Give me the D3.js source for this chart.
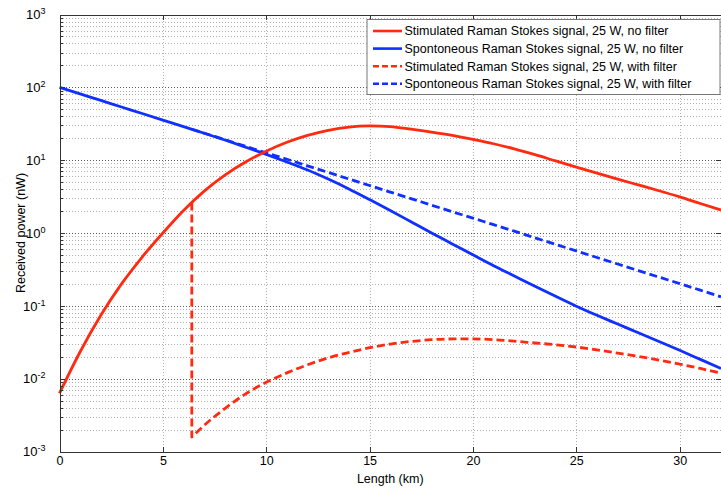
<!DOCTYPE html>
<html>
<head>
<meta charset="utf-8">
<title>Received power vs fibre length</title>
<script src="https://cdnjs.cloudflare.com/ajax/libs/d3/7.8.5/d3.min.js"></script>
<style>
  body { margin: 0; background: #fff; }
  text { font-family: Arial, "Liberation Sans", Helvetica, sans-serif; font-size: 12.5px; fill: #000; }
  .grid-minor { stroke: #b0b0b0; stroke-dasharray: 1,2; shape-rendering: crispEdges; }
  .grid-major { stroke: #5a5a5a; stroke-dasharray: 1,2; shape-rendering: crispEdges; }
  .axis path, .axis line { stroke: #333; shape-rendering: crispEdges; }
  .curve { fill: none; stroke-width: 2.8; stroke-linejoin: round; }
</style>
</head>
<body>
<svg id="main" width="721" height="491"></svg>
<script>
// fibre length (km), no filter
var km = [0, 1, 2, 3, 4, 5, 6, 7, 8, 9, 10, 11, 12, 13, 14, 15, 16,
          17, 18, 19, 20, 21, 22, 23, 24, 25, 26, 27, 28, 29, 30, 31, 32];

// received power (nW)
var stimNoFilter = [0.0063, 0.0234, 0.0741, 0.200, 0.468, 1.00, 2.04, 3.76, 6.24, 9.44, 13.3,
                    17.6, 21.9, 25.7, 28.5, 29.5, 28.8, 26.6, 24.3, 21.9, 19.3, 16.8, 14.3,
                    11.9, 9.77, 8.04, 6.64, 5.50, 4.57, 3.80, 3.13, 2.54, 2.07];
var spontNoFilter = [100, 81.3, 66.1, 53.7, 43.7, 35.5, 28.8, 23.4, 18.9, 15.1, 12.0,
                     9.44, 7.33, 5.50, 4.03, 2.88, 2.04, 1.43, 1.00, 0.708, 0.501, 0.355,
                     0.257, 0.186, 0.135, 0.0989, 0.0741, 0.0562, 0.0427, 0.0324, 0.0245,
                     0.0184, 0.0138];

// filter placed at 6.4 km
var kmFilter = [6.4, 7, 8, 9, 10, 11, 12, 13, 14, 15, 16, 17, 18, 19, 20,
                21, 22, 23, 24, 25, 26, 27, 28, 29, 30, 31, 32];
var stimBeforeFilter = 2.62;
var stimFilter = [0.00158, 0.00229, 0.00389, 0.00617, 0.00891, 0.0120, 0.0155, 0.0193,
                  0.0229, 0.0266, 0.0299, 0.0324, 0.0343, 0.0351, 0.0351, 0.0343, 0.0327,
                  0.0309, 0.0292, 0.0272, 0.0248, 0.0224, 0.0202, 0.0180, 0.0158, 0.0138,
                  0.0119];
var spontFilter = [26.6, 23.5, 19.1, 15.5, 12.6, 10.3, 8.35, 6.79, 5.52, 4.49, 3.65, 2.97,
                   2.41, 1.96, 1.60, 1.30, 1.06, 0.858, 0.698, 0.567, 0.461, 0.375, 0.305,
                   0.248, 0.202, 0.164, 0.133];

var xTicks = [0, 5, 10, 15, 20, 25, 30];
var yDecades = [-3, -2, -1, 0, 1, 2, 3];
var minorMult = [2, 3, 4, 5, 6, 7, 8, 9];

var legendLabels = [
  "Stimulated Raman Stokes signal, 25 W, no filter",
  "Spontoneous Raman Stokes signal, 25 W, no filter",
  "Stimulated Raman Stokes signal, 25 W, with filter",
  "Spontoneous Raman Stokes signal, 25 W, with filter"
];

var RED = "#ff2a10";
var BLUE = "#1030ff";

var svg = d3.select("#main");
var plotL = 59.5, plotR = 721, plotT = 14.5, plotB = 451.5;

var x = d3.scaleLinear().domain([0, 32]).range([plotL, plotR]);
var y = d3.scaleLog().domain([1e-3, 1e3]).range([plotB, plotT]);

var minorVals = [];
yDecades.slice(0, -1).forEach(function(e) {
  minorMult.forEach(function(m) { minorVals.push(m * Math.pow(10, e)); });
});
var decadeVals = yDecades.map(function(e) { return Math.pow(10, e); });

// grid
var grid = svg.append("g");
grid.selectAll(".gm").data(minorVals).enter().append("line")
  .attr("class", "grid-minor")
  .attr("x1", plotL).attr("x2", plotR)
  .attr("y1", function(d) { return Math.round(y(d)) + 0.5; })
  .attr("y2", function(d) { return Math.round(y(d)) + 0.5; });
grid.selectAll(".gd").data(decadeVals.slice(1, -1)).enter().append("line")
  .attr("class", "grid-major")
  .attr("x1", plotL).attr("x2", plotR)
  .attr("y1", function(d) { return Math.round(y(d)) + 0.5; })
  .attr("y2", function(d) { return Math.round(y(d)) + 0.5; });
grid.selectAll(".gx").data(xTicks.slice(1)).enter().append("line")
  .attr("class", "grid-minor")
  .attr("x1", function(d) { return Math.round(x(d)) + 0.5; })
  .attr("x2", function(d) { return Math.round(x(d)) + 0.5; })
  .attr("y1", plotT).attr("y2", plotB);

// curves
var line = d3.line()
  .x(function(d) { return x(d[0]); })
  .y(function(d) { return y(d[1]); })
  .curve(d3.curveMonotoneX);

function pairs(xs, ys) { return xs.map(function(v, i) { return [v, ys[i]]; }); }

var plot = svg.append("g");

plot.append("path").attr("class", "curve")
  .attr("stroke", BLUE)
  .attr("d", line(pairs(km, spontNoFilter)));

plot.append("path").attr("class", "curve")
  .attr("stroke", BLUE).attr("stroke-dasharray", "8,4")
  .attr("d", line(pairs(kmFilter, spontFilter)));

plot.append("path").attr("class", "curve")
  .attr("stroke", RED)
  .attr("d", line(pairs(km, stimNoFilter)));

// dashed stimulated: drop at the filter, then the curve
var stimPath = line(pairs(kmFilter, stimFilter));
plot.append("path").attr("class", "curve")
  .attr("stroke", RED).attr("stroke-dasharray", "8,4")
  .attr("d", "M" + x(kmFilter[0]) + "," + y(stimBeforeFilter) + "L" + stimPath.slice(1));

// axes
var xAxis = d3.axisBottom(x).tickValues(xTicks).tickSize(-5).tickSizeOuter(0).tickPadding(5);
var gx = svg.append("g").attr("class", "axis").attr("transform", "translate(0," + plotB + ")").call(xAxis);
gx.selectAll("text").style("font-size", "12.5px");

svg.append("g").attr("class", "axis").attr("transform", "translate(0," + plotT + ")")
  .call(d3.axisTop(x).tickValues(xTicks).tickSize(-5).tickSizeOuter(0).tickFormat(""));

var yAxis = d3.axisLeft(y).tickValues(decadeVals).tickSize(-5).tickSizeOuter(0).tickPadding(9)
  .tickFormat(function() { return "10"; });
var gy = svg.append("g").attr("class", "axis").attr("transform", "translate(" + plotL + ",0)").call(yAxis);
gy.selectAll(".tick text")
  .attr("dx", "-5px")
  .style("font-size", "13px")
  .append("tspan")
  .attr("dy", "-0.55em")
  .style("font-size", "9px")
  .text(function(d) { return Math.round(Math.log10(d)); });

svg.append("g").attr("class", "axis").attr("transform", "translate(" + plotL + ",0)")
  .call(d3.axisLeft(y).tickValues(minorVals).tickSize(-3).tickSizeOuter(0).tickFormat(""))
  .select(".domain").remove();

svg.append("g").attr("class", "axis").attr("transform", "translate(" + (plotR - 0.5) + ",0)")
  .call(d3.axisRight(y).tickValues(decadeVals).tickSize(-5).tickSizeOuter(0).tickFormat(""));

// axis titles
svg.append("text")
  .attr("x", (plotL + plotR) / 2).attr("y", 483)
  .attr("text-anchor", "middle")
  .text("Length (km)");

svg.append("text")
  .attr("transform", "translate(25," + ((plotT + plotB) / 2) + ") rotate(-90)")
  .attr("text-anchor", "middle")
  .text("Received power (nW)");

// legend
var legend = svg.append("g").attr("transform", "translate(367,19.5)");
legend.append("rect")
  .attr("width", 353).attr("height", 75)
  .attr("fill", "#fff").attr("stroke", "#777");

var legendColors = [RED, BLUE, RED, BLUE];
var legendDash = [null, null, "6,3", "6,3"];
var rows = legend.selectAll(".row").data(legendLabels).enter().append("g")
  .attr("transform", function(d, i) { return "translate(0," + (11.5 + i * 17.6) + ")"; });
rows.append("line")
  .attr("x1", 6).attr("x2", 35)
  .attr("stroke", function(d, i) { return legendColors[i]; })
  .attr("stroke-width", 2.6)
  .attr("stroke-dasharray", function(d, i) { return legendDash[i]; });
rows.append("text")
  .attr("x", 37.5).attr("dy", "0.35em")
  .text(function(d) { return d; });
</script>
</body>
</html>
